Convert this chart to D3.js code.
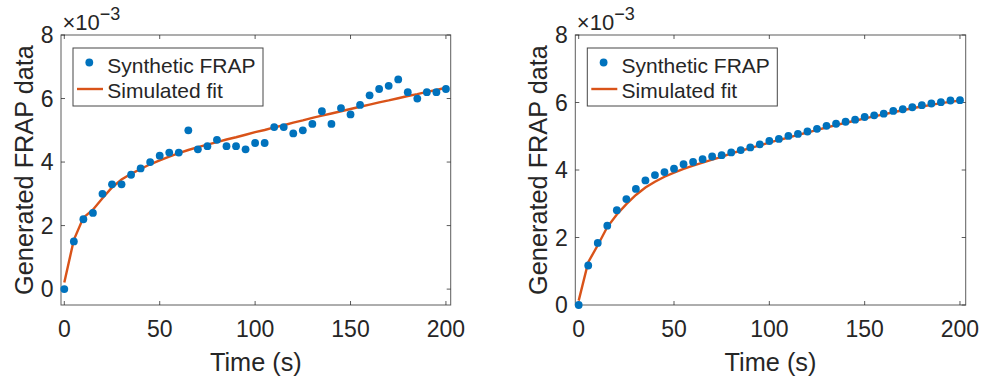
<!DOCTYPE html>
<html>
<head>
<meta charset="utf-8">
<script src="https://cdn.jsdelivr.net/npm/d3@7"></script>
<style>
  body { margin: 0; background: #fff; }
  text { font-family: "Liberation Sans", Arial, Helvetica, sans-serif; fill: #262626; }
</style>
</head>
<body>
<script>
// sample times (s), same for both panels
const times = [0, 5, 10, 15, 20, 25, 30, 35, 40, 45, 50, 55, 60, 65, 70, 75, 80, 85, 90, 95, 100,
  105, 110, 115, 120, 125, 130, 135, 140, 145, 150, 155, 160, 165, 170, 175, 180, 185, 190, 195, 200];

// left panel (x 1e-3)
const noisyData = [0.0, 1.5, 2.2, 2.4, 3.0, 3.3, 3.3, 3.6, 3.8, 4.0, 4.2, 4.3, 4.3, 5.0, 4.4, 4.5, 4.7, 4.5, 4.5, 4.4, 4.6,
  4.6, 5.1, 5.1, 4.9, 5.0, 5.2, 5.6, 5.2, 5.7, 5.5, 5.8, 6.1, 6.3, 6.4, 6.6, 6.2, 6.0, 6.2, 6.2, 6.3];
const noisyFit = [0.21, 1.55, 2.25, 2.5, 2.86, 3.2, 3.45, 3.63, 3.78, 3.93, 4.05, 4.17, 4.28, 4.38, 4.47, 4.55, 4.63, 4.71, 4.78, 4.86, 4.94,
  5.01, 5.09, 5.16, 5.24, 5.31, 5.39, 5.46, 5.53, 5.6, 5.67, 5.74, 5.81, 5.88, 5.94, 6.01, 6.08, 6.14, 6.21, 6.27, 6.34];

// right panel (x 1e-3)
const cleanData = [0.0, 1.17, 1.84, 2.35, 2.81, 3.14, 3.44, 3.69, 3.85, 3.94, 4.04, 4.17, 4.24, 4.32, 4.4, 4.44, 4.52, 4.59, 4.67, 4.76, 4.86,
  4.92, 5.01, 5.07, 5.14, 5.22, 5.31, 5.37, 5.43, 5.49, 5.57, 5.62, 5.67, 5.75, 5.8, 5.86, 5.92, 5.97, 6.01, 6.06, 6.07];
const cleanFit = [0.13, 1.27, 1.77, 2.31, 2.68, 2.99, 3.26, 3.48, 3.65, 3.8, 3.92, 4.03, 4.13, 4.22, 4.31, 4.39, 4.49, 4.57, 4.65, 4.73, 4.81,
  4.89, 4.96, 5.04, 5.11, 5.19, 5.26, 5.33, 5.4, 5.46, 5.53, 5.59, 5.65, 5.71, 5.77, 5.83, 5.88, 5.93, 5.98, 6.02, 6.06];

const xTicks = [0, 50, 100, 150, 200];
const yTicks = [0, 2, 4, 6, 8];
const legendLabels = ["Synthetic FRAP", "Simulated fit"];

const width = 982;
const height = 377;
const BLUE = "#0072BD";
const ORANGE = "#D95319";
const AXIS = "#262626";

const svg = d3.select("body").append("svg")
  .attr("width", width)
  .attr("height", height);

function drawPanel(opts) {
  const { left, right, top, bottom, xDomain, yDomain, data, fit } = opts;
  const x = d3.scaleLinear().domain(xDomain).range([left, right]);
  const y = d3.scaleLinear().domain(yDomain).range([bottom, top]);
  const g = svg.append("g");
  const tickLen = 4;

  // box
  g.append("rect")
    .attr("x", left).attr("y", top)
    .attr("width", right - left).attr("height", bottom - top)
    .attr("fill", "none")
    .attr("stroke", AXIS)
    .attr("stroke-opacity", 0.75)
    .attr("stroke-width", 1);

  // ticks (inward, on all four sides)
  xTicks.forEach(t => {
    g.append("line").attr("x1", x(t)).attr("x2", x(t)).attr("y1", bottom).attr("y2", bottom - tickLen)
      .attr("stroke", AXIS).attr("stroke-opacity", 0.75);
    g.append("line").attr("x1", x(t)).attr("x2", x(t)).attr("y1", top).attr("y2", top + tickLen)
      .attr("stroke", AXIS).attr("stroke-opacity", 0.75);
    g.append("text")
      .attr("x", x(t)).attr("y", bottom + 31.5)
      .attr("text-anchor", "middle")
      .attr("font-size", 23)
      .text(t);
  });
  yTicks.forEach(t => {
    g.append("line").attr("x1", left).attr("x2", left + tickLen).attr("y1", y(t)).attr("y2", y(t))
      .attr("stroke", AXIS).attr("stroke-opacity", 0.75);
    g.append("line").attr("x1", right).attr("x2", right - tickLen).attr("y1", y(t)).attr("y2", y(t))
      .attr("stroke", AXIS).attr("stroke-opacity", 0.75);
    g.append("text")
      .attr("x", left - 7.5).attr("y", y(t))
      .attr("dy", "0.35em")
      .attr("text-anchor", "end")
      .attr("font-size", 23)
      .text(t);
  });

  // exponent label
  const ex = g.append("text").attr("x", left + 1.5).attr("y", 30).attr("font-size", 22);
  ex.append("tspan").text("\u00d710");
  ex.append("tspan").attr("font-size", 18).attr("dy", -10).text("\u22123");

  // axis labels
  g.append("text")
    .attr("x", (left + right) / 2).attr("y", 371)
    .attr("text-anchor", "middle")
    .attr("font-size", 25.3)
    .text("Time (s)");
  g.append("text")
    .attr("transform", `translate(${left - 28},${(top + bottom) / 2}) rotate(-90)`)
    .attr("text-anchor", "middle")
    .attr("font-size", 25.3)
    .text("Generated FRAP data");

  // fit line
  const line = d3.line()
    .x((d, i) => x(times[i]))
    .y(d => y(d));
  g.append("path")
    .datum(fit)
    .attr("fill", "none")
    .attr("stroke", ORANGE)
    .attr("stroke-width", 2.4)
    .attr("d", line);

  // data points
  g.selectAll("circle.pt")
    .data(data)
    .enter().append("circle")
    .attr("class", "pt")
    .attr("cx", (d, i) => x(times[i]))
    .attr("cy", d => y(d))
    .attr("r", 3.9)
    .attr("fill", BLUE);

  // legend
  const lx = left + 12, ly = 48;
  const leg = g.append("g");
  leg.append("rect")
    .attr("x", lx).attr("y", ly)
    .attr("width", 190).attr("height", 58)
    .attr("fill", "#fff")
    .attr("stroke", AXIS)
    .attr("stroke-opacity", 0.85)
    .attr("stroke-width", 1);
  leg.append("circle")
    .attr("cx", lx + 16.3).attr("cy", ly + 14.5)
    .attr("r", 3.9).attr("fill", BLUE);
  leg.append("line")
    .attr("x1", lx + 4).attr("x2", lx + 30)
    .attr("y1", ly + 41).attr("y2", ly + 41)
    .attr("stroke", ORANGE).attr("stroke-width", 2.4);
  legendLabels.forEach((lab, i) => {
    leg.append("text")
      .attr("x", lx + 34.3).attr("y", ly + 24.5 + i * 25)
      .attr("font-size", 21)
      .text(lab);
  });
}

drawPanel({ left: 61, right: 450.7, top: 35, bottom: 305, xDomain: [-1.73, 202.5], yDomain: [-0.5, 8],
  data: noisyData, fit: noisyFit });
drawPanel({ left: 575.3, right: 965.7, top: 35, bottom: 305, xDomain: [-1.78, 203], yDomain: [0, 8],
  data: cleanData, fit: cleanFit });
</script>
</body>
</html>
